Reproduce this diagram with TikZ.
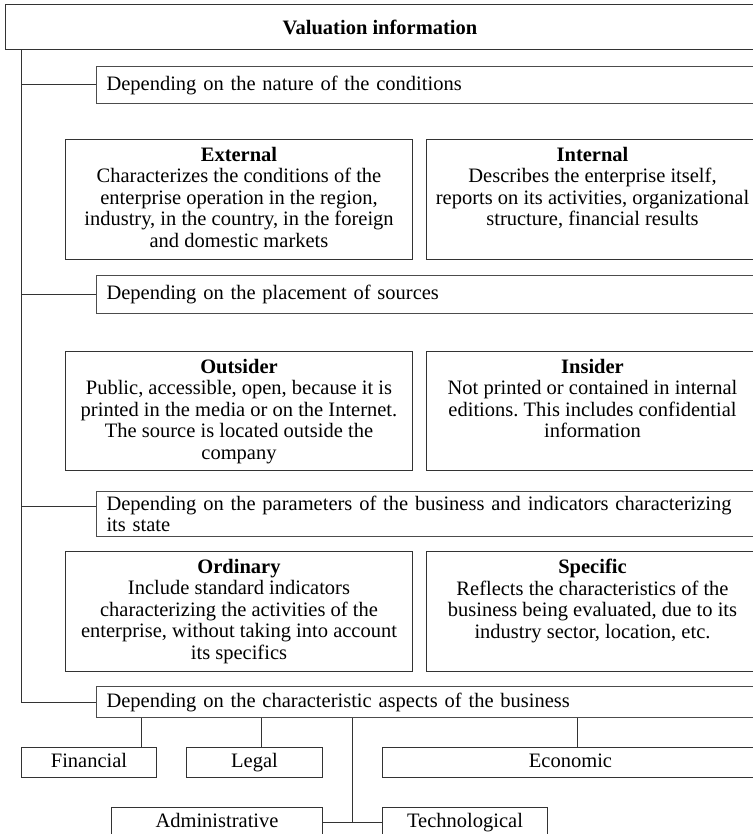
\documentclass[tikz,border=0pt]{standalone}
\usepackage{fontspec}
\setmainfont{Liberation Serif}
\frenchspacing
\usetikzlibrary{calc}
\usetikzlibrary{positioning}
\tikzset{>=latex}
\tikzstyle{head} = [draw = black!80, line width = 1pt, anchor = north west, minimum width = 749, minimum height = 45, inner sep = 0]
\tikzstyle{sect} = [draw = black!70, line width = 1pt, anchor = north west, text width = 642, inner xsep = 10, inner ysep = 0, align = left]
\tikzstyle{frame} = [draw = black!80, line width = 1pt, anchor = north west, inner sep = 0]
\tikzstyle{body} = [anchor = north, align = center, inner sep = 0]
\tikzstyle{leaf} = [draw = black!80, line width = 1pt, anchor = north west, inner sep = 0, minimum height = 30, text height = 14, text depth = 5]
\tikzstyle{link} = [-, draw = black!80, line width = 1pt]

\begin{document}
\begin{tikzpicture}[x = 1pt, y = -1pt, font = \fontsize{20.5}{21.5}\selectfont]
\useasboundingbox (0, 0) rectangle (752, 834);
\node [head] (val) at (5, 4) {\textbf{Valuation information}};

% groups of information
\node [sect, minimum height = 37] (s1) at (96, 66) {Depending on the nature of the conditions};
\node [sect, minimum height = 38] (s2) at (96, 275) {Depending on the placement of sources};
\node [sect, minimum height = 45] (s3) at (96, 491) {Depending on the parameters of the business and indicators characterizing\\its state};
\node [sect, minimum height = 31] (s4) at (96, 686) {Depending on the characteristic aspects of the business};

\node [frame, minimum width = 347, minimum height = 120] (ext) at (65, 139) {};
\node [frame, minimum width = 332, minimum height = 120] (int) at (426, 139) {};
\node [body, below = 8pt of ext.north] (exttxt) {\textbf{External}\\Characterizes the conditions of the\\enterprise operation in the region,\\industry, in the country, in the foreign\\and domestic markets};
\node [body, below = 8pt of int.north] (inttxt) {\textbf{Internal}\\Describes the enterprise itself,\\reports on its activities, organizational\\structure, financial results};

\node [frame, minimum width = 347, minimum height = 119] (out) at (65, 351) {};
\node [frame, minimum width = 332, minimum height = 119] (ins) at (426, 351) {};
\node [body, below = 8pt of out.north] (outtxt) {\textbf{Outsider}\\Public, accessible, open, because it is\\printed in the media or on the Internet.\\The source is located outside the\\company};
\node [body, below = 8pt of ins.north] (instxt) {\textbf{Insider}\\Not printed or contained in internal\\editions. This includes confidential\\information};

\node [frame, minimum width = 347, minimum height = 120] (ord) at (65, 551) {};
\node [frame, minimum width = 332, minimum height = 120] (spe) at (426, 551) {};
\node [body, below = 8pt of ord.north] (ordtxt) {\textbf{Ordinary}\\Include standard indicators\\characterizing the activities of the\\enterprise, without taking into account\\its specifics};
\node [body, below = 8pt of spe.north] (spetxt) {\textbf{Specific}\\Reflects the characteristics of the\\business being evaluated, due to its\\industry sector, location, etc.};

% aspects
\node [leaf, minimum width = 135] (fin) at (21, 747) {Financial};
\node [leaf, minimum width = 136] (leg) at (186, 747) {Legal};
\node [leaf, minimum width = 376] (eco) at (382, 747) {Economic};
\node [leaf, minimum width = 211] (adm) at (111, 807) {Administrative};
\node [leaf, minimum width = 165] (tec) at (382, 807) {Technological};

% trunk and branches
\coordinate (trunk) at ([xshift = 16] val.south west);
\draw [link] (trunk) |- (s4.west);
\draw [link] (trunk |- s1.west) -- (s1.west);
\draw [link] (trunk |- s2.west) -- (s2.west);
\coordinate (s3b) at ([yshift = -15] s3.north west);
\draw [link] (trunk |- s3b) -- (s3b);

\coordinate (finx) at ([xshift = 52] fin.north);
\coordinate (legx) at ([xshift = 7] leg.north);
\coordinate (ecox) at ([xshift = 7] eco.north);
\coordinate (mid) at ($(adm.east)!0.5!(tec.west)$);
\draw [link] (finx) -- (finx |- s4.south);
\draw [link] (legx) -- (legx |- s4.south);
\draw [link] (ecox) -- (ecox |- s4.south);
\draw [link] (adm.east) -- (tec.west);
\draw [link] (mid) -- (mid |- s4.south);
\end{tikzpicture}
\end{document}
